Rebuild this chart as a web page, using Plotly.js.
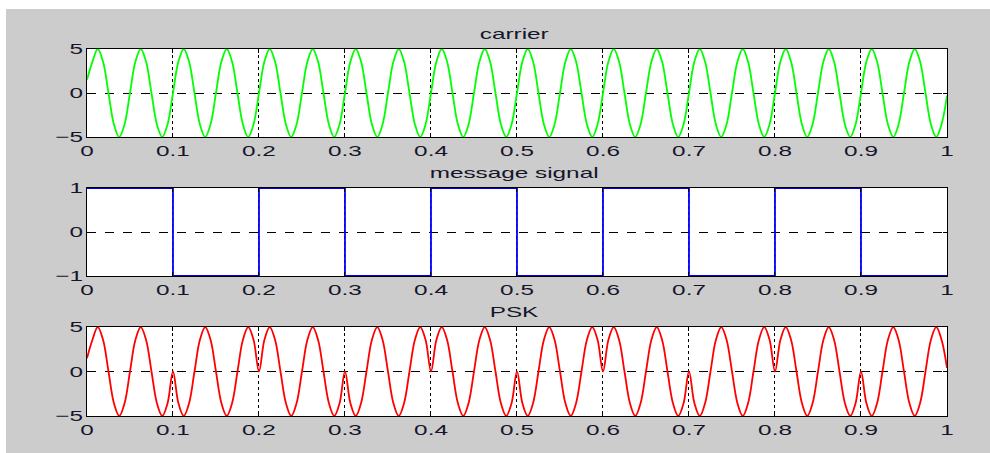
<!DOCTYPE html>
<html>
<head>
<meta charset="utf-8">
<script src="https://cdn.plot.ly/plotly-3.0.1.min.js"></script>
<style>
  html, body { margin: 0; padding: 0; background: #ffffff; width: 990px; height: 453px; overflow: hidden; }
  #chart { position: absolute; left: 6px; top: 9px; width: 984px; height: 444px; }
</style>
</head>
<body>
<div id="chart"></div>
<script>
// ---- data ----
const t = [
  0, 0.00625, 0.0125, 0.01875, 0.025, 0.03125, 0.0375, 0.04375,
  0.05, 0.05625, 0.0625, 0.06875, 0.075, 0.08125, 0.0875, 0.09375,
  0.1, 0.10625, 0.1125, 0.11875, 0.125, 0.13125, 0.1375, 0.14375,
  0.15, 0.15625, 0.1625, 0.16875, 0.175, 0.18125, 0.1875, 0.19375,
  0.2, 0.20625, 0.2125, 0.21875, 0.225, 0.23125, 0.2375, 0.24375,
  0.25, 0.25625, 0.2625, 0.26875, 0.275, 0.28125, 0.2875, 0.29375,
  0.3, 0.30625, 0.3125, 0.31875, 0.325, 0.33125, 0.3375, 0.34375,
  0.35, 0.35625, 0.3625, 0.36875, 0.375, 0.38125, 0.3875, 0.39375,
  0.4, 0.40625, 0.4125, 0.41875, 0.425, 0.43125, 0.4375, 0.44375,
  0.45, 0.45625, 0.4625, 0.46875, 0.475, 0.48125, 0.4875, 0.49375,
  0.5, 0.50625, 0.5125, 0.51875, 0.525, 0.53125, 0.5375, 0.54375,
  0.55, 0.55625, 0.5625, 0.56875, 0.575, 0.58125, 0.5875, 0.59375,
  0.6, 0.60625, 0.6125, 0.61875, 0.625, 0.63125, 0.6375, 0.64375,
  0.65, 0.65625, 0.6625, 0.66875, 0.675, 0.68125, 0.6875, 0.69375,
  0.7, 0.70625, 0.7125, 0.71875, 0.725, 0.73125, 0.7375, 0.74375,
  0.75, 0.75625, 0.7625, 0.76875, 0.775, 0.78125, 0.7875, 0.79375,
  0.8, 0.80625, 0.8125, 0.81875, 0.825, 0.83125, 0.8375, 0.84375,
  0.85, 0.85625, 0.8625, 0.86875, 0.875, 0.88125, 0.8875, 0.89375,
  0.9, 0.90625, 0.9125, 0.91875, 0.925, 0.93125, 0.9375, 0.94375,
  0.95, 0.95625, 0.9625, 0.96875, 0.975, 0.98125, 0.9875, 0.99375,
  1
];

const carrier = [
  1.5, 3.54, 5, 3.54, 0, -3.54, -5, -3.54,
  0, 3.54, 5, 3.54, 0, -3.54, -5, -3.54,
  0, 3.54, 5, 3.54, 0, -3.54, -5, -3.54,
  0, 3.54, 5, 3.54, 0, -3.54, -5, -3.54,
  0, 3.54, 5, 3.54, 0, -3.54, -5, -3.54,
  0, 3.54, 5, 3.54, 0, -3.54, -5, -3.54,
  0, 3.54, 5, 3.54, 0, -3.54, -5, -3.54,
  0, 3.54, 5, 3.54, 0, -3.54, -5, -3.54,
  0, 3.54, 5, 3.54, 0, -3.54, -5, -3.54,
  0, 3.54, 5, 3.54, 0, -3.54, -5, -3.54,
  0, 3.54, 5, 3.54, 0, -3.54, -5, -3.54,
  0, 3.54, 5, 3.54, 0, -3.54, -5, -3.54,
  0, 3.54, 5, 3.54, 0, -3.54, -5, -3.54,
  0, 3.54, 5, 3.54, 0, -3.54, -5, -3.54,
  0, 3.54, 5, 3.54, 0, -3.54, -5, -3.54,
  0, 3.54, 5, 3.54, 0, -3.54, -5, -3.54,
  0, 3.54, 5, 3.54, 0, -3.54, -5, -3.54,
  0, 3.54, 5, 3.54, 0, -3.54, -5, -3.54,
  0, 3.54, 5, 3.54, 0, -3.54, -5, -3.54,
  0, 3.54, 5, 3.54, 0, -3.54, -5, -3.54,
  -0.3
];

const msgT = [0, 0.1, 0.2, 0.3, 0.4, 0.5, 0.6, 0.7, 0.8, 0.9, 1];
const msgV = [1, -1, 1, -1, 1, -1, 1, -1, 1, -1, -1];

const psk = [
  1.5, 3.54, 5, 3.54, 0, -3.54, -5, -3.54,
  0, 3.54, 5, 3.54, 0, -3.54, -5, -3.54,
  0, -3.54, -5, -3.54, 0, 3.54, 5, 3.54,
  0, -3.54, -5, -3.54, 0, 3.54, 5, 3.54,
  0, 3.54, 5, 3.54, 0, -3.54, -5, -3.54,
  0, 3.54, 5, 3.54, 0, -3.54, -5, -3.54,
  0, -3.54, -5, -3.54, 0, 3.54, 5, 3.54,
  0, -3.54, -5, -3.54, 0, 3.54, 5, 3.54,
  0, 3.54, 5, 3.54, 0, -3.54, -5, -3.54,
  0, 3.54, 5, 3.54, 0, -3.54, -5, -3.54,
  0, -3.54, -5, -3.54, 0, 3.54, 5, 3.54,
  0, -3.54, -5, -3.54, 0, 3.54, 5, 3.54,
  0, 3.54, 5, 3.54, 0, -3.54, -5, -3.54,
  0, 3.54, 5, 3.54, 0, -3.54, -5, -3.54,
  0, -3.54, -5, -3.54, 0, 3.54, 5, 3.54,
  0, -3.54, -5, -3.54, 0, 3.54, 5, 3.54,
  0, 3.54, 5, 3.54, 0, -3.54, -5, -3.54,
  0, 3.54, 5, 3.54, 0, -3.54, -5, -3.54,
  0, -3.54, -5, -3.54, 0, 3.54, 5, 3.54,
  0, -3.54, -5, -3.54, 0, 3.54, 5, 3.54,
  0.4
];

const xTickVals = [0, 0.1, 0.2, 0.3, 0.4, 0.5, 0.6, 0.7, 0.8, 0.9, 1];
const xTickText = ['0', '0.1', '0.2', '0.3', '0.4', '0.5', '0.6', '0.7', '0.8', '0.9', '1'];
const ampTicks = [-5, 0, 5];
const msgTicks = [-1, 0, 1];
const titles = ['carrier', 'message signal', 'PSK'];

// ---- styling ----
const FONT = 'Liberation Sans, Arial, sans-serif';
const tickFont = { family: FONT, size: 15, color: '#15152a' };

function xAxis(anchor) {
  return {
    domain: [0.0823, 0.9563], range: [0, 1], anchor: anchor,
    tickmode: 'array', tickvals: xTickVals, ticktext: xTickText,
    ticks: 'inside', ticklen: 4, tickcolor: '#000', tickwidth: 1,
    showline: true, linecolor: '#000', linewidth: 1, mirror: 'ticks',
    showgrid: true, gridcolor: '#000', gridwidth: 1, griddash: 'dot',
    zeroline: false, tickfont: tickFont, fixedrange: true
  };
}
function yAxis(anchor, domain, range, ticks) {
  return {
    domain: domain, range: range, anchor: anchor,
    tickmode: 'array', tickvals: ticks,
    ticks: 'inside', ticklen: 4, tickcolor: '#000', tickwidth: 1,
    showline: true, linecolor: '#000', linewidth: 1, mirror: 'ticks',
    showgrid: true, gridcolor: '#000', gridwidth: 1, griddash: 'dash',
    zeroline: false, tickfont: tickFont, fixedrange: true
  };
}

const domains = [[0.7117, 0.9099], [0.3986, 0.5968], [0.0833, 0.2838]];

const traces = [
  { x: t, y: carrier, type: 'scatter', mode: 'lines', xaxis: 'x', yaxis: 'y',
    line: { color: '#00ff00', width: 1.8, shape: 'spline', smoothing: 1 }, hoverinfo: 'skip' },
  { x: msgT, y: msgV, type: 'scatter', mode: 'lines', xaxis: 'x2', yaxis: 'y2',
    line: { color: '#0000ff', width: 1.8, shape: 'hv' }, hoverinfo: 'skip' },
  { x: t, y: psk, type: 'scatter', mode: 'lines', xaxis: 'x3', yaxis: 'y3',
    line: { color: '#ff0000', width: 1.8, shape: 'spline', smoothing: 1 }, hoverinfo: 'skip' }
];

const annotations = titles.map((txt, i) => ({
  text: txt, xref: 'paper', yref: 'paper', x: 0.5163, y: domains[i][1],
  xanchor: 'center', yanchor: 'bottom', yshift: 5, showarrow: false,
  font: { family: FONT, size: 15, color: '#15152a' }
}));

const layout = {
  width: 984, height: 444,
  paper_bgcolor: '#cccccc', plot_bgcolor: '#ffffff',
  margin: { l: 0, r: 0, t: 0, b: 0 },
  showlegend: false,
  xaxis: xAxis('y'), yaxis: yAxis('x', domains[0], [-5, 5], ampTicks),
  xaxis2: xAxis('y2'), yaxis2: yAxis('x2', domains[1], [-1, 1], msgTicks),
  xaxis3: xAxis('y3'), yaxis3: yAxis('x3', domains[2], [-5, 5], ampTicks),
  annotations: annotations
};

Plotly.newPlot('chart', traces, layout, { staticPlot: true, displayModeBar: false }).then(function (gd) {
  // the reference text is horizontally stretched; widen glyphs to match
  const sel = gd.querySelectorAll('g.xaxislayer-above text, g.yaxislayer-above text, .annotation-text');
  sel.forEach(function (el) {
    const len = el.getComputedTextLength();
    if (len > 0) {
      el.setAttribute('textLength', (len * 1.62).toFixed(1));
      el.setAttribute('lengthAdjust', 'spacingAndGlyphs');
    }
  });
});
</script>
</body>
</html>
